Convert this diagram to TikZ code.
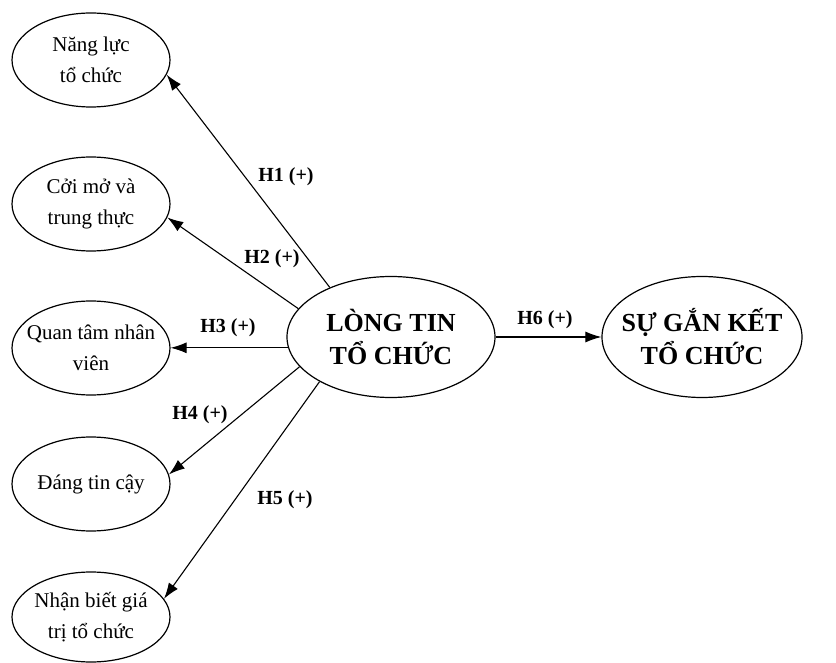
\documentclass[tikz,border=0pt]{standalone}
\usepackage{fontspec}
\setmainfont{Liberation Serif}
\usetikzlibrary{arrows.meta,shapes.geometric}

\begin{document}
\begin{tikzpicture}[x=1pt,y=-1pt,>={Latex[length=16pt,width=11pt]},
    small/.style={ellipse,draw,line width=1.2pt,minimum width=158pt,minimum height=94pt,inner sep=0pt},
    big/.style={ellipse,draw,line width=1.2pt,minimum width=208pt,minimum height=121pt,inner sep=0pt},
    smalltxt/.style={align=center,font=\fontsize{21}{31}\selectfont},
    bigtxt/.style={align=center,font=\fontsize{26}{33}\selectfont\bfseries},
    hyp/.style={font=\fontsize{20}{22}\selectfont\bfseries},
    link/.style={->,line width=1.1pt}]
    \useasboundingbox (0,0) rectangle (836,663);
    % the five antecedents
    \node[small,label={[smalltxt]center:Năng lực\\tổ chức}] (nl) at (91,60) {};
    \node[small,label={[smalltxt]center:Cởi mở và\\trung thực}] (cm) at (91,204) {};
    \node[small,label={[smalltxt]center:Quan tâm nhân\\viên}] (qt) at (91,348) {};
    \node[small,label={[smalltxt]center:Đáng tin cậy}] (dt) at (91,484) {};
    \node[small,minimum height=90pt,label={[smalltxt]center:Nhận biết giá\\trị tổ chức}] (nb) at (91,617) {};
    % trust and commitment
    \node[big,label={[bigtxt]center:LÒNG TIN\\TỔ CHỨC}] (lt) at (391,337) {};
    \node[big,minimum width=200pt,label={[bigtxt]center:SỰ GẮN KẾT\\TỔ CHỨC}] (sg) at (702,337) {};
    % hypotheses
    \draw[link] (lt.141) -- (nl.-11);
    \draw[link] (lt.163) -- (cm.-10);
    \draw[link] (lt.186) -- (lt.186 -| qt.east);
    \draw[link] (lt.198) -- (dt.7);
    \draw[link] (lt.212) -- (nb.14);
    \draw[link] (lt.east) -- (sg.west);
    \node[hyp] (h1) at (286,177) {H1 (+)};
    \node[hyp] (h2) at (272,259) {H2 (+)};
    \node[hyp] (h3) at (228,328) {H3 (+)};
    \node[hyp] (h4) at (200,415) {H4 (+)};
    \node[hyp] (h5) at (285,500) {H5 (+)};
    \node[hyp] (h6) at (545,320) {H6 (+)};
\end{tikzpicture}
\end{document}
